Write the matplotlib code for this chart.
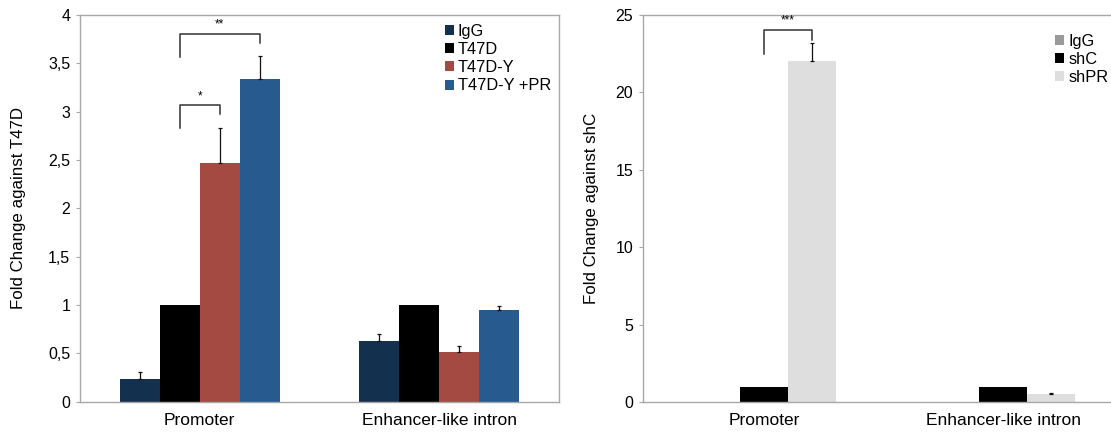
import numpy as np
import matplotlib
matplotlib.use("Agg")
import matplotlib.pyplot as plt
from matplotlib.ticker import FuncFormatter

# ---- DATA

groups = ["Promoter", "Enhancer-like intron"]

# left panel: fold change against T47D
left_labels = ["IgG", "T47D", "T47D-Y", "T47D-Y +PR"]
left_values = [[0.24, 0.63], [1.0, 1.0], [2.47, 0.52], [3.34, 0.955]]
left_errors = [[0.07, 0.07], [0.0, 0.0], [0.36, 0.06], [0.24, 0.04]]
left_colors = ["#13304e", "#000000", "#a54a42", "#275a8f"]

# right panel: fold change against shC
right_labels = ["IgG", "shC", "shPR"]
right_values = [[0.03, 0.03], [1.0, 1.0], [22.0, 0.5]]
right_errors = [[0.0, 0.0], [0.0, 0.0], [1.2, 0.08]]
right_colors = ["#9a9a9a", "#000000", "#dedede"]

# significance brackets: (bar a, bar b, top, leg a bottom, leg b bottom, text)
left_sig = [(1, 2, 3.07, 2.83, 2.98, "*"), (1, 3, 3.81, 3.57, 3.71, "**")]
right_sig = [(1, 2, 24.05, 22.5, 23.4, "***")]

plt.rcParams["font.family"] = ["Liberation Sans", "DejaVu Sans"]
FRAME = "#a8a8a8"


def comma(v, pos):
    return ("%g" % v).replace(".", ",")


def draw_panel(ax, labels, values, errors, colors, width, sig, ylim, step,
               ylabel, legend_anchor, labelpad):
    n = len(labels)
    x = np.arange(len(groups))
    offsets = (np.arange(n) - (n - 1) / 2.0) * width
    for i in range(n):
        ax.bar(x + offsets[i], values[i], width, color=colors[i],
               label=labels[i], zorder=2)
        err = np.array(errors[i])
        if err.any():
            ax.errorbar(x + offsets[i], values[i],
                        yerr=[np.zeros_like(err), err], fmt="none",
                        ecolor="#111111", elinewidth=0.9, capsize=1.2,
                        capthick=0.9, zorder=3)

    # significance brackets (promoter group)
    for a, b, top, ya, yb, txt in sig:
        xa, xb = x[0] + offsets[a], x[0] + offsets[b]
        ax.plot([xa, xa, xb, xb], [ya, top, top, yb], color="#333333",
                lw=1.1, zorder=4)
        ax.text((xa + xb) / 2, top + (ylim[1] - ylim[0]) * 0.008, txt,
                ha="center", va="bottom", fontsize=8.5)

    ax.set_ylim(*ylim)
    ax.set_yticks(np.arange(ylim[0], ylim[1] + step / 2, step))
    ax.yaxis.set_major_formatter(FuncFormatter(comma))
    ax.set_xticks(x)
    ax.set_xticklabels(groups, fontsize=12.5)
    ax.tick_params(axis="x", length=0, pad=8)
    ax.tick_params(axis="y", length=3, width=0.8, color=FRAME,
                   labelsize=11.5, pad=4)
    ax.set_ylabel(ylabel, fontsize=12.2, labelpad=labelpad)
    for sp in ax.spines.values():
        sp.set_color(FRAME)
        sp.set_linewidth(1.0)

    leg = ax.legend(loc="upper left", bbox_to_anchor=legend_anchor,
                    frameon=False, fontsize=11.8, handlelength=0.55,
                    handleheight=0.55, handletextpad=0.25,
                    labelspacing=0.2, borderpad=0, borderaxespad=0)
    return leg


fig = plt.figure(figsize=(11.11, 4.33), dpi=100)

ax1 = fig.add_axes([0.072, 0.072, 0.431, 0.893])
ax1.set_xlim(-0.5, 1.5)
draw_panel(ax1, left_labels, left_values, left_errors, left_colors,
           1 / 6.0, left_sig, (0, 4), 0.5, "Fold Change against T47D",
           (0.762, 0.978), 16)

# right panel is cut off at the figure edge in the reference
ax2 = fig.add_axes([0.5788, 0.0716, 0.4230, 0.8938])
ax2.set_xlim(-0.506, 1.46)
draw_panel(ax2, right_labels, right_values, right_errors, right_colors,
           0.2, right_sig, (0, 25), 5, "Fold Change against shC",
           (0.877, 0.952), 12)
ax2.spines["right"].set_visible(False)

fig.savefig("out.png", dpi=100)
